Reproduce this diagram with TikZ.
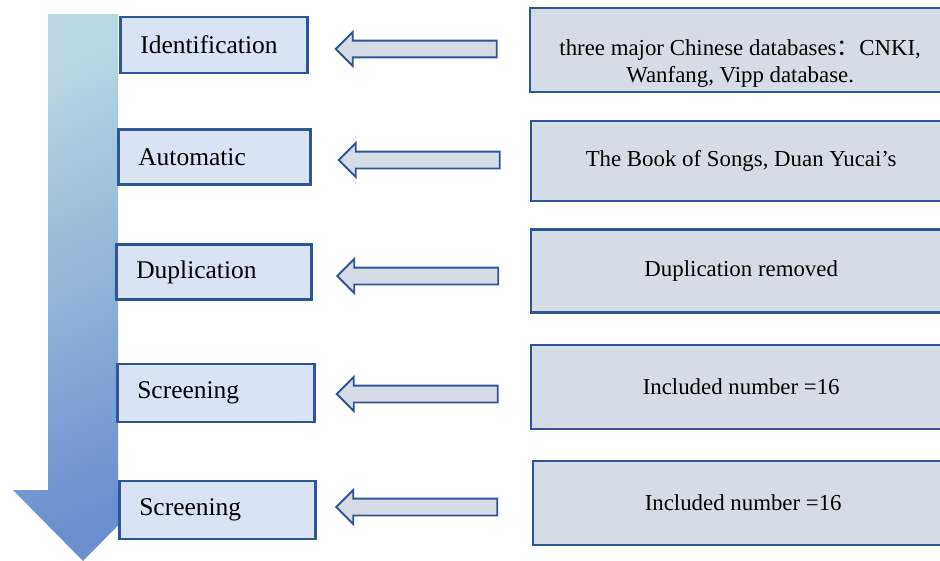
\documentclass[tikz,border=0pt]{standalone}
\usepackage{fontspec}
\setmainfont{Liberation Serif}
\newfontfamily\cjk{Noto Sans CJK SC}
\usepackage{tikz}
\usetikzlibrary{shapes.arrows}
\definecolor{edgeblue}{HTML}{2F5597}
\definecolor{stepfill}{HTML}{DAE3F3}
\definecolor{srcfill}{HTML}{D6DCE5}
\definecolor{flowtop}{HTML}{B7D7E1}
\definecolor{flowbot}{HTML}{6A90CF}

\begin{document}
\begin{tikzpicture}[
  x=0.02cm, y=-0.02cm,
  lbox/.style={draw=edgeblue, line width=1.5pt, fill=stepfill, anchor=west,
    font=\fontsize{14.5}{17}\selectfont, align=left, inner xsep=0.4cm, inner ysep=0pt},
  rbox/.style={draw=edgeblue, line width=1.4pt, fill=srcfill, anchor=west,
    font=\fontsize{13}{15.5}\selectfont, align=center, minimum width=8.4cm, inner sep=0pt},
  hollow/.style={single arrow, shape border rotate=180, draw=edgeblue, line width=1.1pt,
    fill=srcfill, inner sep=0.15cm, single arrow head extend=0.17cm,
    single arrow tip angle=90, minimum height=3.22cm},
]
\useasboundingbox (0,0) rectangle (940,561);
% ---- big downward flow arrow
\shade[top color=flowtop, bottom color=flowbot, shading angle=25]
  (48,14) -- (118,14) -- (118,490) -- (153,490) -- (83,561) -- (13,490) -- (48,490) -- cycle;
% ---- steps (left column)
\foreach \n/\x/\y/\w/\h/\t in {1/119/45/2.94/1.12/Identification,
    2/117/157/3.04/1.10/Automatic, 3/115/272/3.10/1.10/Duplication,
    4/116/393/3.14/1.16/Screening, 5/118/510/3.12/1.16/Screening}
  \node[lbox, text width=\w cm, minimum height=\h cm] (step\n) at (\x,\y) {\t};
% ---- sources (right column)
\node[rbox, minimum height=1.68cm] (src1) at (529,50)
  {\rule{0pt}{24pt}three major Chinese databases{\cjk ：}CNKI,\\ Wanfang, Vipp database.};
\foreach \n/\x/\y/\h/\t in {2/530/161/1.60/{The Book of Songs, Duan Yucai’s},
    3/530/271/1.66/{Duplication removed}, 4/530/387/1.68/{Included number =16},
    5/532/503/1.68/{Included number =16}}
  \node[rbox, minimum height=\h cm] (src\n) at (\x,\y) {\t};
% ---- hollow arrows between columns
\foreach \n/\x/\y in {1/420.5/49, 2/423.5/160, 3/422/276, 4/421.5/394, 5/421/507}
  \node[hollow] (arr\n) at (\x,\y) {};
\end{tikzpicture}
\end{document}
